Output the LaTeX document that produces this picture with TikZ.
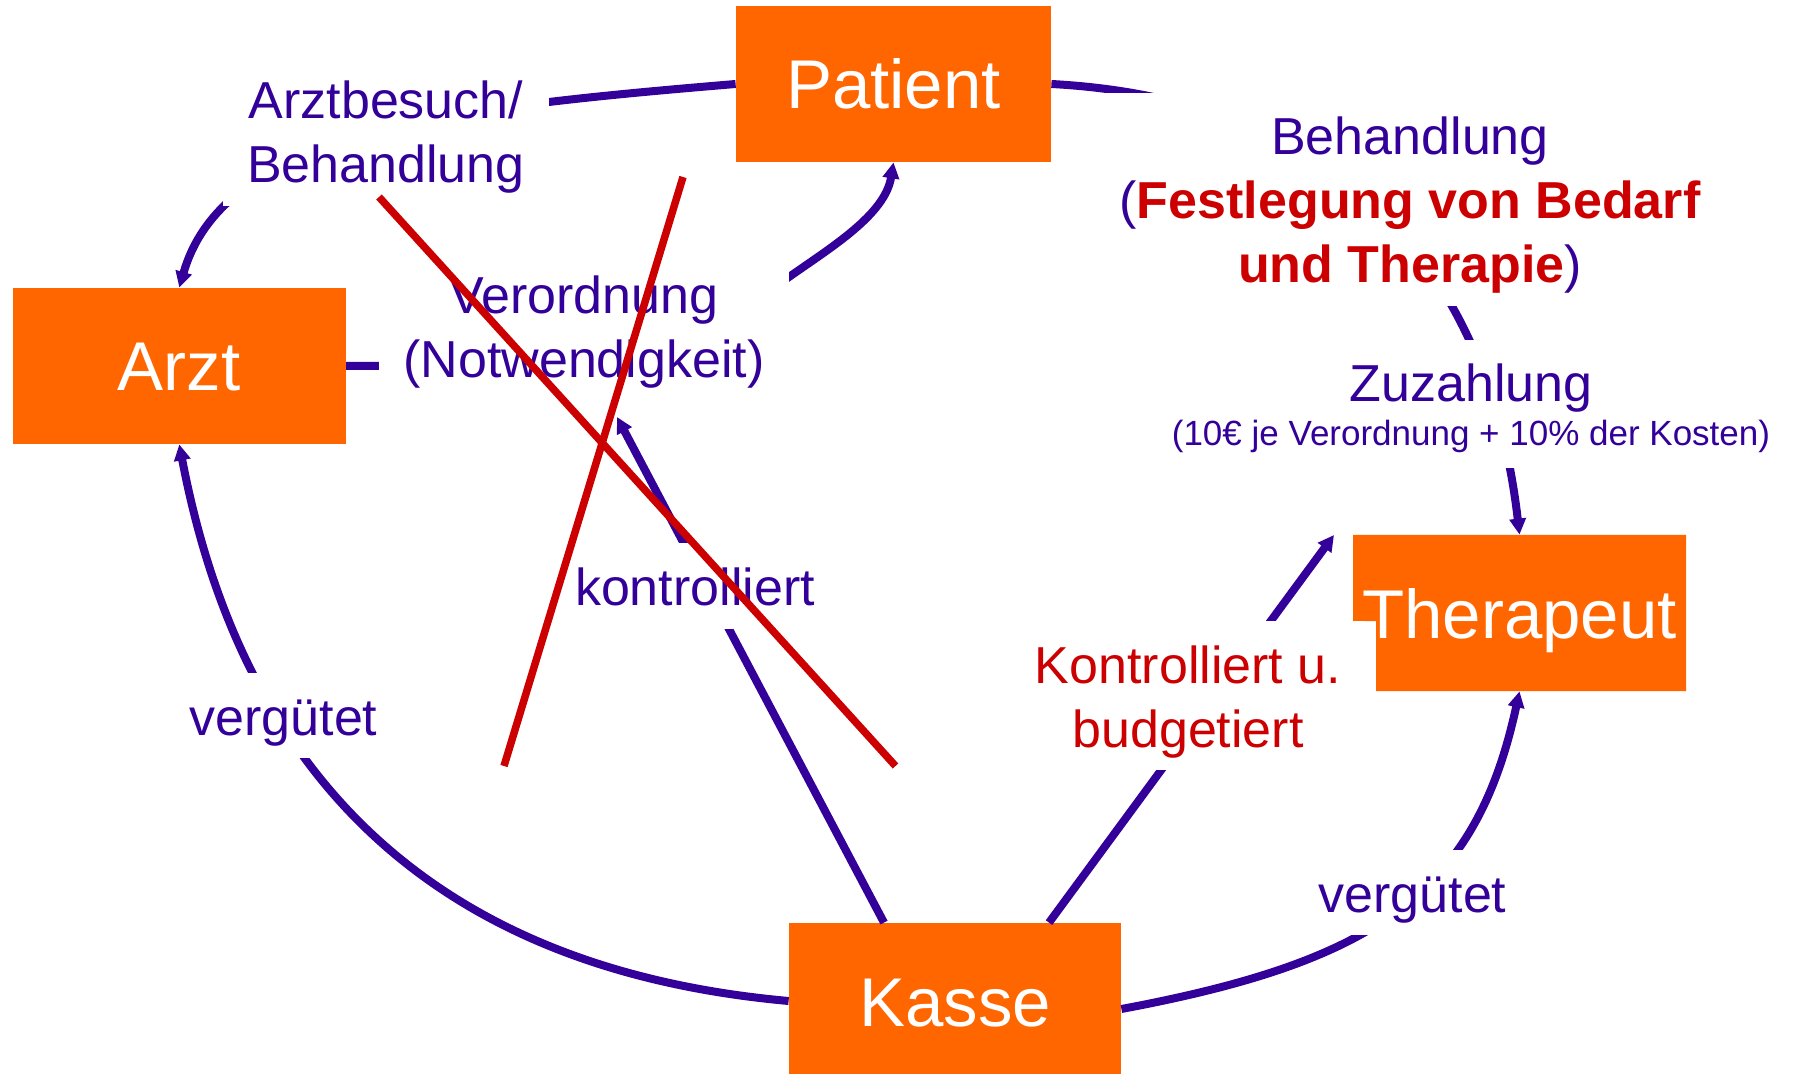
\documentclass[tikz,border=0pt]{standalone}
\usepackage{fontspec}
\setmainfont{Liberation Sans}
\usetikzlibrary{arrows.meta}
\definecolor{myblue}{RGB}{51,0,153}
\definecolor{myorange}{RGB}{255,102,0}
\definecolor{myred}{RGB}{204,0,0}
\newcommand\ls{\rule[-5.5pt]{0pt}{30.5pt}}
\begin{document}
\begin{tikzpicture}[x=0.5pt,y=-0.5pt,
  box/.style={fill=myorange,text=white,inner sep=0pt,font=\fontsize{34.5}{40}\selectfont,text height=25pt,text depth=0pt,minimum height=78pt},
  conn/.style={draw=myblue,line width=4pt,-{Triangle[length=8pt,width=8pt]}},
  lab/.style={fill=white,inner xsep=12pt,inner ysep=6pt,align=center,text=myblue,font=\fontsize{26}{32}\selectfont},
  cross/.style={draw=myred,line width=3.75pt}]
\useasboundingbox (0,0) rectangle (1793,1074);
\clip (0,0) rectangle (1793,1074);
% boxes
\node[box,minimum width=157.5pt] (patient) at (893.5,84) {Patient};
\node[box,minimum width=166.3pt] (arzt) at (179.3,366) {Arzt};
\node[box,minimum width=166pt] (kasse) at (955,1001) {Kasse};
\fill[myorange] (1353,535) -- (1686,535) -- (1686,691) -- (1376,691) -- (1376,621) -- (1353,621) -- cycle;
\node[box,fill=none,minimum width=166.5pt] (therapeut) at (1519.5,613) {Therapeut};
% free ends
\coordinate (kt) at (617,417);
\coordinate (kb) at (1334,535);
% connectors
\draw[conn] (patient.west) .. controls (436,109) and (223.5,134) .. (arzt.north);
\draw[conn] (arzt.east) -- (560,366) .. controls (700,366) and (740,310) .. (789,277) .. controls (830,248) and (885,215) .. (patient.south);
\draw[conn] (patient.east) .. controls (1351,100) and (1490.6,283) .. (therapeut.north);
\draw[conn] ([xshift=-35.5pt]kasse.north) -- (kt);
\draw[conn] ([xshift=47pt]kasse.north) -- (kb);
\draw[conn] (kasse.west) .. controls (445,970) and (244.6,787) .. (arzt.south);
\draw[conn] ([yshift=-4pt]kasse.east) .. controls (1375,961.5) and (1475.6,894) .. (therapeut.south);
% labels
\node[lab] (l1) at (386,131.5) {\ls Arztbesuch/\\\ls Behandlung};
\node[lab] (l2) at (584,326) {\ls Verordnung\\\ls (Notwendigkeit)};
\node[lab] (l3) at (695,586) {\ls kontrolliert};
\node[lab] (l4) at (283.5,715.5) {\ls vergütet};
\node[lab] (l5) at (1412.5,892.5) {\ls vergütet};
\node[lab,text=myred] (l6) at (1188,695.5) {\ls Kontrolliert u.\\\ls budgetiert};
\node[lab] (l7) at (1410,199.5) {\ls Behandlung\\\ls ({\color{myred}\bfseries Festlegung von Bedarf}\\\ls {\color{myred}\bfseries und Therapie})};
\node[lab] (l8) at (1471,404) {\ls Zuzahlung\\[-10pt]{\fontsize{17.5}{22}\selectfont (10€ je Verordnung + 10\% der Kosten)}\rule[-5pt]{0pt}{5pt}};
% cross-out lines
\coordinate (r1a) at (379,197);
\coordinate (r1b) at (895.5,766);
\coordinate (r2a) at (683,177);
\coordinate (r2b) at (504,766);
\draw[cross] (r1a) -- (r1b);
\draw[cross] (r2a) -- (r2b);
\end{tikzpicture}
\end{document}
